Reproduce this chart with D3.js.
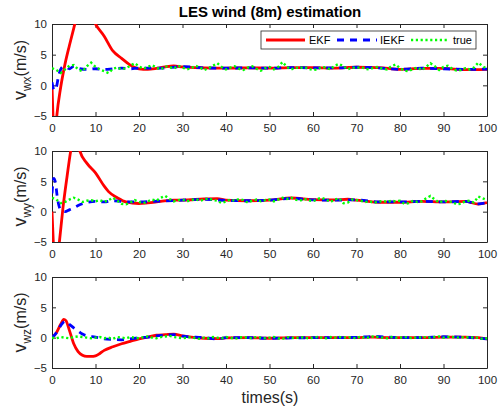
<!DOCTYPE html>
<html><head><meta charset="utf-8">
<script src="https://cdn.jsdelivr.net/npm/d3@7"></script>
<style>body{margin:0;background:#fff}svg{display:block;font-family:"Liberation Sans",Arial,sans-serif}</style>
</head><body>
<script>
const title = "LES wind (8m) estimation";
const xLabel = "times(s)";
const xTicks = [0,10,20,30,40,50,60,70,80,90,100];
const yTicks = [-5,0,5,10];
const seriesNames = ["EKF","IEKF","true"];
const panelSubs = ["wx","wy","wz"];

// ---- panel 1 (wx)
const wxEkfT = [0,0.3,0.7,1.1,2,3,4,5,6,7,8,9,10,12,14,16,18,20,22,24,26,28,30,35,40,45,50,55,60,65,70,75,80,85,90,95,100];
const wxEkfV = [0,-6,-8.5,-5,-0.3,3.5,6.5,9.3,12,13.5,13,11.5,10,8,5.6,4.4,3.3,2.7,2.6,2.75,3.0,3.15,3.0,2.85,2.8,2.85,2.8,2.9,2.9,2.8,2.95,2.9,2.6,2.75,2.75,2.55,2.6];
const wxIekfT = [0,0.5,1,1.5,2,2.5,3,4,5,6,8,10,12,14,16,18,20,25,30,35,40,45,50,55,60,65,70,75,80,85,90,95,100];
const wxIekfV = [0.5,-0.8,-0.3,1.5,2.6,3.0,3.0,2.7,3.1,2.8,2.6,2.7,2.6,2.7,2.8,2.7,2.8,2.8,3.05,2.85,2.8,2.85,2.8,2.9,2.85,2.85,2.95,2.85,2.6,2.8,2.7,2.6,2.65];
const wxTrue = [2.8,2.5,2.0,2.6,3.2,3.3,2.6,2.3,3.1,3.7,3.0,2.6,2.3,2.0,2.7,2.9,2.6,2.8,3.2,3.6,3.1,2.7,3.0,3.3,2.9,2.6,3.1,3.0,2.7,3.2,2.9,2.6,2.8,3.2,2.9,2.5,2.8,3.2,3.6,3.0,2.6,2.9,3.1,2.7,2.5,2.9,3.1,2.7,2.4,2.8,3.0,2.6,3.0,3.8,3.0,2.6,2.9,2.8,3.0,2.7,2.5,2.6,3.0,2.9,2.6,3.2,3.5,3.1,2.6,2.9,2.8,3.0,2.7,2.6,2.9,3.0,2.7,2.6,3.1,3.4,2.8,2.4,2.3,2.7,2.9,2.5,3.0,3.6,3.1,2.5,3.0,3.2,2.7,2.4,2.5,2.8,2.6,2.9,3.7,3.1,2.7];

// ---- panel 2 (wy)
const wyEkfT = [0,0.3,0.8,1.3,1.7,2.5,3.5,4.3,5,5.7,6.4,8,10,12,13,15,17,20,22,25,28,30,35,38,40,45,50,55,60,65,68,70,75,80,85,90,95,98,100];
const wyEkfV = [0,-5,-9,-7.5,-5,0.5,6,10,12.5,12,10,8,6.4,4.2,3.3,2.3,1.6,1.35,1.45,1.7,1.9,1.9,2.1,2.15,1.9,1.8,1.9,2.25,2.0,1.95,2.05,1.9,1.55,1.55,1.7,1.6,1.7,1.25,1.5];
const wyIekfT = [0,0.4,0.8,1.2,1.6,2,3,4,5,6,7,8,10,12,14,16,18,20,25,30,35,40,45,50,55,60,65,70,75,80,85,90,95,98,100];
const wyIekfV = [3,5.5,4.8,2.5,1.0,0.3,0,0.3,0.6,1.0,1.3,1.5,1.7,1.6,1.8,1.7,1.6,1.6,1.75,1.9,2.05,1.85,1.8,1.9,2.2,1.95,1.9,1.95,1.6,1.6,1.7,1.6,1.7,1.3,1.5];
const wyTrue = [2.3,2.0,1.4,1.6,2.0,2.3,2.0,1.6,1.8,1.9,1.7,1.9,1.6,1.9,2.3,1.8,1.3,1.2,1.5,1.9,1.6,1.4,1.7,2.0,1.8,2.3,2.6,2.1,1.7,1.9,2.0,1.7,1.9,2.1,1.8,2.0,2.2,1.9,1.8,1.4,1.7,2.0,1.8,2.1,1.9,1.5,1.8,2.0,1.7,1.9,2.0,1.7,2.0,2.3,2.1,2.3,2.0,1.8,2.1,1.9,1.7,2.1,2.3,2.0,1.6,2.0,2.2,1.4,1.5,2.0,1.9,1.8,1.6,1.7,1.5,1.6,1.8,1.6,1.8,1.7,1.8,1.3,1.4,1.8,1.6,1.7,2.2,2.6,2.0,1.5,1.8,1.7,1.6,1.2,1.3,1.7,1.8,1.5,2.5,2.2,1.9];

// ---- panel 3 (wz)
const wzEkfT = [0,1,2,2.7,3.2,4,5,6,7,8,9,10,11,12,14,16,18,20,22,24,26,28,30,32,35,38,40,45,50,55,60,65,70,73,75,80,85,90,95,98,100];
const wzEkfV = [0,0.8,2.2,3.0,2.8,1.2,-1.0,-2.3,-2.9,-3.1,-3.1,-3.0,-2.6,-2.1,-1.5,-1.0,-0.6,-0.2,0.1,0.4,0.5,0.6,0.3,0.1,-0.1,-0.15,-0.05,0,-0.1,0,0,0,0,0.1,0.05,0,0,0.1,0.1,0,-0.2];
const wzIekfT = [0,1,2,3,4,5,6,7,8,10,12,14,16,18,20,22,24,26,28,30,35,38,40,45,50,55,60,65,70,74,80,85,90,95,100];
const wzIekfV = [0,0.8,2.0,2.7,2.2,1.6,1.1,0.6,0.3,0.1,-0.2,-0.3,-0.35,-0.2,0,0.1,0.3,0.4,0.5,0.25,0,-0.2,0,0,-0.1,-0.05,0,0,0.05,0.2,0,0,0.15,0.05,-0.2];
const wzTrue = [0,-0.1,0.1,0,-0.1,0.1,0.2,0.1,0,-0.1,0,0.1,-0.1,0,-0.2,0.1,0,-0.1,0.1,0,-0.1,0.1,0.2,0,-0.1,0.1,0.2,0.3,0.1,0,-0.1,0,0.1,-0.1,-0.2,0,-0.1,0.1,0,-0.1,0.1,0,-0.2,0,0.1,0,-0.1,0.1,0,-0.1,0,0.1,-0.1,-0.2,0.1,0,-0.1,0.1,0,-0.1,0,0.1,0,-0.1,0.1,0,0.1,0,0.1,0,-0.1,0.2,-0.1,0.1,0.2,0.1,0,-0.1,0.1,0,0,0.1,0,-0.1,0.1,0,0.1,0,0.1,0.2,0,0.1,0.1,0,0.1,0,0.1,0,0,-0.2,-0.1];

const panels = [
  {sub:"wx", ekf:[wxEkfT,wxEkfV], iekf:[wxIekfT,wxIekfV], tru:wxTrue, y0:24, y1:116},
  {sub:"wy", ekf:[wyEkfT,wyEkfV], iekf:[wyIekfT,wyIekfV], tru:wyTrue, y0:151, y1:242},
  {sub:"wz", ekf:[wzEkfT,wzEkfV], iekf:[wzIekfT,wzIekfV], tru:wzTrue, y0:277, y1:368}
];

const W=498,H=409, X0=52, X1=487;
const axisCol="#262626";
const svg=d3.select("body").append("svg").attr("width",W).attr("height",H);
const x=d3.scaleLinear().domain([0,100]).range([X0,X1]);

svg.append("text").attr("x",270).attr("y",17).attr("text-anchor","middle")
  .attr("font-size",15).attr("font-weight","bold").attr("fill","#000").text(title);

const styles = {
  EKF:{stroke:"#ff0000",w:2.8,dash:null},
  IEKF:{stroke:"#0000ff",w:2.8,dash:"7,6"},
  true:{stroke:"#00ff00",w:2.4,dash:"2.2,2.6"}
};

panels.forEach((p,i)=>{
  const y=d3.scaleLinear().domain([-5,10]).range([p.y1,p.y0]);
  const g=svg.append("g");
  const cid="clip"+i;
  svg.append("defs").append("clipPath").attr("id",cid).append("rect")
    .attr("x",X0).attr("y",p.y0).attr("width",X1-X0).attr("height",p.y1-p.y0);
  const ax=g.append("g").attr("transform",`translate(0,${p.y1})`)
    .call(d3.axisBottom(x).tickValues(xTicks).tickSizeInner(-4).tickSizeOuter(0).tickPadding(8));
  const ay=g.append("g").attr("transform",`translate(${X0},0)`)
    .call(d3.axisLeft(y).tickValues(yTicks).tickSizeInner(-4).tickSizeOuter(0).tickPadding(5));
  const axt=g.append("g").attr("transform",`translate(0,${p.y0})`)
    .call(d3.axisTop(x).tickValues(xTicks).tickSizeInner(-4).tickSizeOuter(0).tickFormat(""));
  const ayr=g.append("g").attr("transform",`translate(${X1},0)`)
    .call(d3.axisRight(y).tickValues(yTicks).tickSizeInner(-4).tickSizeOuter(0).tickFormat(""));
  [ax,ay,axt,ayr].forEach(a=>{
    a.select(".domain").attr("stroke",axisCol).attr("stroke-width",1);
    a.selectAll(".tick line").attr("stroke",axisCol);
    a.selectAll(".tick text").attr("fill",axisCol).attr("font-size",11.5)
      .attr("font-family","'Liberation Sans',Arial,sans-serif");
  });
  const plot=g.append("g").attr("clip-path",`url(#${cid})`);
  const lineC=d3.line().x(d=>x(d[0])).y(d=>y(d[1])).curve(d3.curveMonotoneX);
  const lineL=d3.line().x(d=>x(d[0])).y(d=>y(d[1]));
  const ekfD=p.ekf[0].map((t,k)=>[t,p.ekf[1][k]]);
  const iekfD=p.iekf[0].map((t,k)=>[t,p.iekf[1][k]]);
  const truD=p.tru.map((v,k)=>[k,v]);
  [[ekfD,"EKF",lineC],[iekfD,"IEKF",lineC],[truD,"true",lineL]].forEach(([d,n,l])=>{
    const s=styles[n];
    plot.append("path").attr("d",l(d)).attr("fill","none").attr("stroke",s.stroke)
      .attr("stroke-width",s.w).attr("stroke-dasharray",s.dash);
  });
  const cy=(p.y0+p.y1)/2;
  const t=svg.append("text").attr("transform",`translate(26,${cy}) rotate(-90)`)
    .attr("text-anchor","middle").attr("font-size",16).attr("fill",axisCol);
  t.append("tspan").attr("font-size",18).text("v");
  t.append("tspan").attr("font-size",12).attr("dy",5).text(p.sub);
  t.append("tspan").attr("dy",-5).text("(m/s)");
});

const lg=svg.append("g");
lg.append("rect").attr("x",261).attr("y",31).attr("width",215).attr("height",18)
  .attr("fill","#fff").attr("stroke",axisCol).attr("stroke-width",0.8);
const legItems=[["EKF",266,305,309],["IEKF",337,377,380],["true",411,449,453]];
legItems.forEach(([n,a,b,tx])=>{
  const s=styles[n];
  lg.append("line").attr("x1",a).attr("x2",b).attr("y1",40).attr("y2",40)
    .attr("stroke",s.stroke).attr("stroke-width",s.w).attr("stroke-dasharray",s.dash);
  lg.append("text").attr("x",tx).attr("y",44).attr("font-size",11).attr("fill","#000").text(n);
});

svg.append("text").attr("x",270).attr("y",403).attr("text-anchor","middle")
  .attr("font-size",16).attr("fill",axisCol).text(xLabel);
</script>
</body></html>
